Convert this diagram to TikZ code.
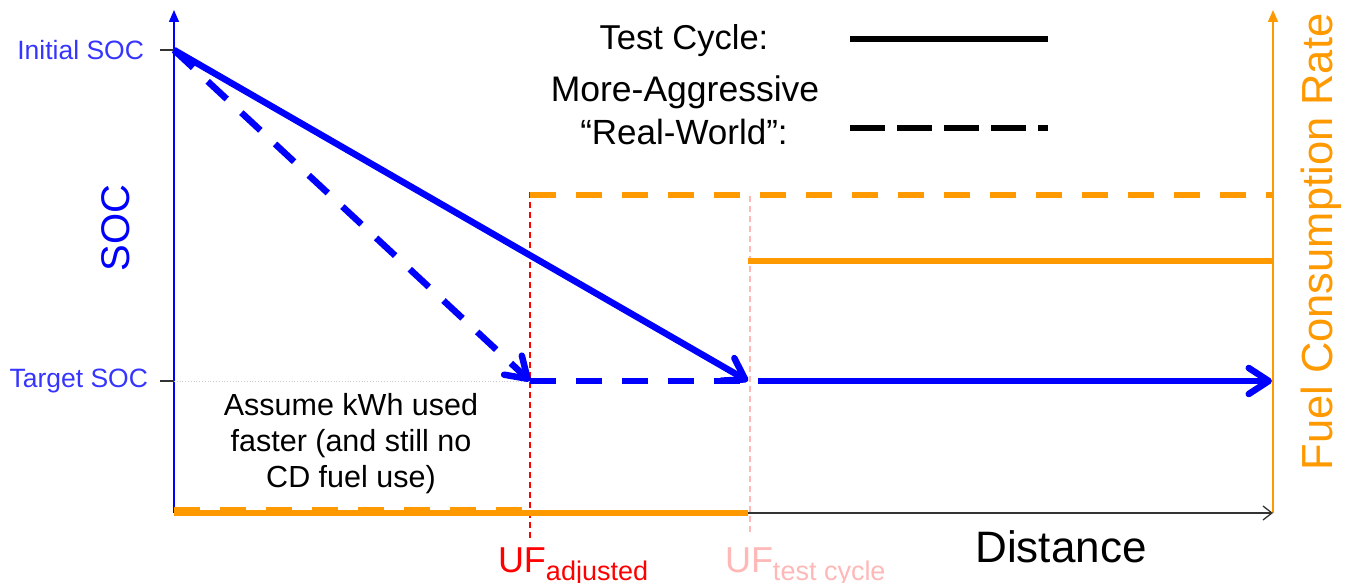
\documentclass[tikz,border=0pt]{standalone}
\usepackage{fontspec}
\setmainfont{Liberation Sans}
\usetikzlibrary{arrows.meta}
\definecolor{socblue}{HTML}{0000FF}
\definecolor{lblblue}{HTML}{3535FF}
\definecolor{fuelorange}{HTML}{FF9900}
\definecolor{ufred}{HTML}{FF0000}
\definecolor{ufpink}{HTML}{FFB8B8}
\begin{document}
\begin{tikzpicture}[x=1pt,y=-1pt,
  every node/.style={inner sep=0pt,outer sep=0pt},
  chev/.style={-{Straight Barb[round,length=20pt,width=26pt]}},
  socsolid/.style={socblue,line width=6.5pt},
  socdash/.style={socblue,line width=6.5pt,dash pattern=on 26pt off 20pt},
  fuelsolid/.style={fuelorange,line width=6pt},
  fueldash/.style={fuelorange,line width=6pt,dash pattern=on 26pt off 20pt},
  axisarrow/.style={-{Triangle[length=12pt,width=10pt]}},
  tick/.style={black!80,line width=1.5pt},
  ufline/.style={line width=1.5pt,dash pattern=on 6pt off 4pt},
  lbl/.style={font=\fontsize{26.5}{30}\selectfont,text=lblblue}
]
\useasboundingbox (0,0) rectangle (1346,583);
% coordinates
\coordinate (O) at (174,513);
\coordinate (Ytop) at (174,10);
\coordinate (Xend) at (1273,513);
\coordinate (Rtop) at (1273,10);
\coordinate (init) at (174,50);
\coordinate (initL) at (160,50);
\coordinate (tgt0) at (174,381);
\coordinate (tgtL) at (160,381);
\coordinate (tgtA) at (530,381);
\coordinate (tgtT) at (748,381);
\coordinate (tgtT2) at (758,381);
\coordinate (tgtEnd) at (1272,381);
\coordinate (redTop) at (530,192);
\coordinate (redBot) at (530,540);
\coordinate (pinkTop) at (750,196);
\coordinate (pinkBot) at (750,535);
\coordinate (hiA) at (530,195);
\coordinate (hiEnd) at (1272,195);
\coordinate (midT) at (748,261);
\coordinate (midEnd) at (1273,261);
\coordinate (botT) at (748,513);
\coordinate (botD0) at (174,510);
\coordinate (botDA) at (530,510);
\coordinate (legS0) at (850,39);
\coordinate (legS1) at (1048,39);
\coordinate (legD0) at (850,128);
\coordinate (legD1) at (1048,128);

% axes
\draw[socblue,line width=1.5pt,axisarrow] (O) -- (Ytop);
\draw[fuelorange,line width=1.5pt,axisarrow] (Xend) -- (Rtop);
\draw[black!80,line width=1.3pt,-{Straight Barb[length=9pt,width=14pt]}] (O) -- (Xend);
\draw[tick] (initL) -- (init);
\draw[tick] (tgtL) -- (tgt0);
\draw[black!20,line width=0.8pt,dotted] (tgt0) -- (tgtA);

% UF lines
\draw[ufred,ufline] (redTop) -- (redBot);
\draw[ufpink,ufline] (pinkTop) -- (pinkBot);

% fuel consumption
\draw[fuelsolid] (O) -- (botT);
\draw[fueldash] (botD0) -- (botDA);
\draw[fueldash] (hiA) -- (hiEnd);
\draw[fuelsolid] (midT) -- (midEnd);

% SOC
\draw[socsolid,chev] (init) -- (tgtT);
\draw[socdash,chev] (init) -- (tgtA);
\draw[socdash] (tgtA) -- (tgtT);
\draw[socsolid,chev] (tgtT2) -- (tgtEnd);

% legend
\draw[black,line width=6pt] (legS0) -- (legS1);
\draw[black,line width=6pt,dash pattern=on 35pt off 12pt] (legD0) -- (legD1);
\node[anchor=base,font=\fontsize{34.5}{40}\selectfont] (lt) at (684,50) {Test Cycle:};
\node[anchor=base,font=\fontsize{35.5}{40}\selectfont] (lm1) at (685,102) {More-Aggressive};
\node[anchor=base,font=\fontsize{35}{40}\selectfont] (lm2) at (684,145) {“Real-World”:};

% labels
\node[lbl,anchor=east] (linit) at (144,50) {Initial SOC};
\node[lbl,anchor=east] (ltgt) at (148,381) {Target SOC};
\node[rotate=90,text=socblue,font=\fontsize{40}{48}\selectfont] (lsoc) at (116,228) {SOC};
\node[rotate=90,text=fuelorange,font=\fontsize{43.5}{50}\selectfont] (lfuel) at (1321,242) {Fuel Consumption Rate};
\node[anchor=base,font=\fontsize{44}{52}\selectfont] (ldist) at (1061,562) {Distance};
\node[align=center,font=\fontsize{30.5}{36}\selectfont] (lass) at (351,444) {Assume kWh used\\faster (and still no\\CD fuel use)};
\node[anchor=base west,text=ufred] (lufa) at (498,572) {{\fontsize{36}{40}\selectfont UF}{\fontsize{27}{30}\selectfont\raisebox{-8pt}{adjusted}}};
\node[anchor=base west,text=ufpink] (luft) at (725,572) {{\fontsize{36}{40}\selectfont UF}{\fontsize{27}{30}\selectfont\raisebox{-8pt}{test cycle}}};
\end{tikzpicture}
\end{document}
